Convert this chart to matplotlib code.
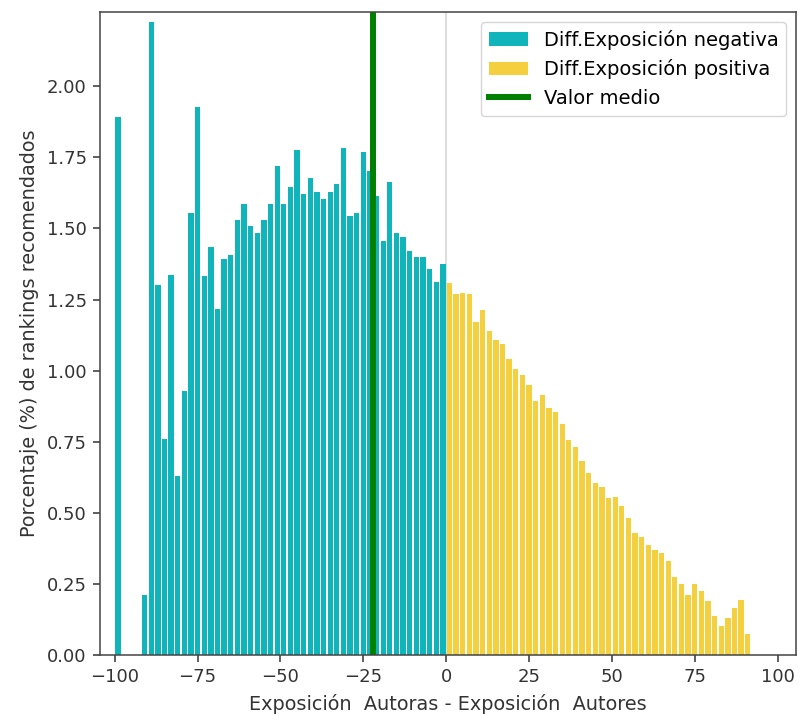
import numpy as np
import matplotlib
matplotlib.use('Agg')
import matplotlib.pyplot as plt

# Share of recommended rankings (%) per 2-point bin of exposure difference
neg_centers = list(range(-99, 0, 2))
neg_pct = [1.89, 0.0, 0.0, 0.0, 0.21, 2.225, 1.30, 0.76, 1.337, 0.63,
           0.93, 1.553, 1.925, 1.331, 1.435, 1.215, 1.393, 1.405, 1.531, 1.586,
           1.510, 1.484, 1.531, 1.586, 1.718, 1.587, 1.644, 1.775, 1.621, 1.677,
           1.629, 1.602, 1.629, 1.657, 1.781, 1.545, 1.553, 1.769, 1.70, 1.614,
           1.456, 1.662, 1.484, 1.470, 1.420, 1.399, 1.399, 1.358, 1.310, 1.375]

pos_centers = list(range(1, 93, 2))
pos_pct = [1.309, 1.268, 1.274, 1.268, 1.171, 1.212, 1.138, 1.109, 1.095, 1.040,
           1.006, 0.985, 0.950, 0.895, 0.916, 0.868, 0.854, 0.813, 0.757, 0.730,
           0.682, 0.641, 0.605, 0.591, 0.551, 0.557, 0.524, 0.483, 0.428, 0.414,
           0.387, 0.371, 0.358, 0.330, 0.275, 0.249, 0.213, 0.249, 0.227, 0.192,
           0.138, 0.103, 0.131, 0.166, 0.193, 0.076]

mean_diff = -22.2

fig = plt.figure(figsize=(7.99, 7.16), dpi=100)
ax = fig.add_axes([0.125, 0.085, 0.871, 0.898])

ax.axvline(0, color='#dddddd', linewidth=1.5, zorder=0)
b_neg = ax.bar(neg_centers, neg_pct, width=1.6, color='#0fb5ba', label='Diff.Exposición negativa')
b_pos = ax.bar(pos_centers, pos_pct, width=1.6, color='#f4d03f', label='Diff.Exposición positiva')
l_mean = ax.axvline(mean_diff, color='green', linewidth=4.3, label='Valor medio')

ax.set_xlim(-104.5, 105.5)
ax.set_ylim(0, 2.26)
ax.set_xticks([-100, -75, -50, -25, 0, 25, 50, 75, 100])
ax.set_yticks(np.arange(0, 2.01, 0.25))
ax.tick_params(labelsize=13, colors='#333333', labelcolor='#333333',
               length=4.7, width=1.1, pad=4.7)
for s in ax.spines.values():
    s.set_color('#444444')
    s.set_linewidth(1.1)

ax.set_xlabel('Exposición  Autoras - Exposición  Autores', fontsize=13.9,
              color='#333333', labelpad=5.4)
ax.set_ylabel('Porcentaje (%) de rankings recomendados', fontsize=13.9,
              color='#333333', labelpad=5.4)
ax.legend(handles=[b_neg, b_pos, l_mean], loc='upper right', fontsize=14)

fig.savefig('out.png', dpi=100)
